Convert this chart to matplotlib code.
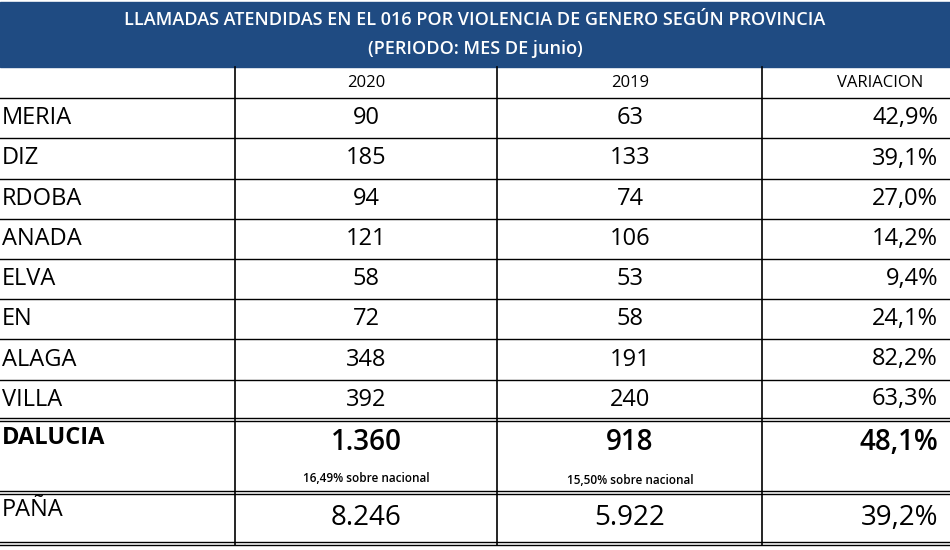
import matplotlib
matplotlib.use("Agg")
import matplotlib.pyplot as plt

title1 = "LLAMADAS ATENDIDAS EN EL 016 POR VIOLENCIA DE GENERO SEGÚN PROVINCIA"
title2 = "(PERIODO: MES DE junio)"
headers = ["2020", "2019", "VARIACION"]
provinces = ["MERIA", "DIZ", "RDOBA", "ANADA", "ELVA", "EN", "ALAGA", "VILLA"]
v2020 = ["90", "185", "94", "121", "58", "72", "348", "392"]
v2019 = ["63", "133", "74", "106", "53", "58", "191", "240"]
variation = ["42,9%", "39,1%", "27,0%", "14,2%", "9,4%", "24,1%", "82,2%", "63,3%"]
total_row = ["DALUCIA", "1.360", "918", "48,1%"]
total_notes = ["16,49% sobre nacional", "15,50% sobre nacional"]
spain_row = ["PAÑA", "8.246", "5.922", "39,2%"]

font = "Open Sans"
fig = plt.figure(figsize=(9.5, 5.5), dpi=100)
ax = fig.add_axes([0, 0, 1, 1])
ax.set_xlim(0, 950); ax.set_ylim(550, 0); ax.axis("off")

ax.add_patch(plt.Rectangle((0, 2), 950, 65, color="#1f4b82"))
ax.text(475, 20, title1, color="white", ha="center", va="center", fontsize=13, family=font, weight="semibold")
ax.text(475, 49, title2, color="white", ha="center", va="center", fontsize=13, family=font, weight="semibold")

colx = [235, 497, 762]
centers = [366, 630, 880]
for x in colx:
    ax.plot([x, x], [67, 545], color="black", lw=1.2)
hl = [98, 138, 179, 219, 259, 299, 339, 380]
for y in hl:
    ax.plot([0, 950], [y, y], color="black", lw=1)
for y in [418, 421, 491, 494, 542, 545]:
    ax.plot([0, 950], [y, y], color="black", lw=1)

for c, h in zip(centers, headers):
    ax.text(c, 83, h, ha="center", va="center", fontsize=12, family=font)

for i, (p, a, b, v) in enumerate(zip(provinces, v2020, v2019, variation)):
    y = (hl[i] + (hl[i + 1] if i + 1 < len(hl) else 419)) / 2
    ax.text(2, y, p, ha="left", va="center", fontsize=17, family=font)
    ax.text(centers[0], y, a, ha="center", va="center", fontsize=17, family=font)
    ax.text(centers[1], y, b, ha="center", va="center", fontsize=17, family=font)
    ax.text(centers[2] + 58, y, v, ha="right", va="center", fontsize=17, family=font)

ax.text(2, 438, total_row[0], ha="left", va="center", fontsize=17, family=font, weight="bold")
ax.text(centers[0], 443, total_row[1], ha="center", va="center", fontsize=20, family=font, weight="semibold")
ax.text(centers[1], 443, total_row[2], ha="center", va="center", fontsize=20, family=font, weight="semibold")
ax.text(centers[2] + 58, 443, total_row[3], ha="right", va="center", fontsize=20, family=font, weight="semibold")
ax.text(centers[0], 479, total_notes[0], ha="center", va="center", fontsize=8.5, family=font, weight="semibold")
ax.text(centers[1], 480, total_notes[1], ha="center", va="center", fontsize=8.5, family=font, weight="semibold")

ax.text(2, 510, spain_row[0], ha="left", va="center", fontsize=17, family=font)
for c, t in zip(centers[:2], spain_row[1:3]):
    ax.text(c, 518, t, ha="center", va="center", fontsize=20, family=font)
ax.text(centers[2] + 58, 518, spain_row[3], ha="right", va="center", fontsize=20, family=font)

fig.savefig("out.png", dpi=100)
